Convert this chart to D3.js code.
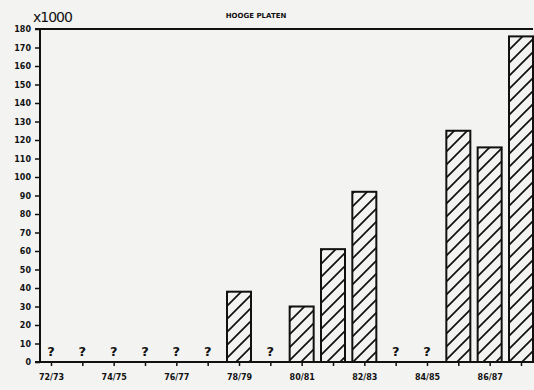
<!DOCTYPE html>
<html><head><meta charset="utf-8">
<script src="https://cdn.jsdelivr.net/npm/d3@7"></script>
<style>
html,body{margin:0;padding:0;background:#f3f3f1;}
svg{display:block;}
text{font-family:"DejaVu Sans",sans-serif;font-weight:bold;fill:#111;}
</style></head>
<body>
<script>
const categories = ["72/73","73/74","74/75","75/76","76/77","77/78","78/79","79/80","80/81","81/82","82/83","83/84","84/85","85/86","86/87","87/88"];
const values = [null,null,null,null,null,null,38,null,30,61,92,null,null,125,116,176];
const yTicks = [0,10,20,30,40,50,60,70,80,90,100,110,120,130,140,150,160,170,180];
const xLabels = ["72/73","74/75","76/77","78/79","80/81","82/83","84/85","86/87"];
const title = "HOOGE PLATEN";
const unitLabel = "x1000";

const W = 534, H = 390;
const svg = d3.select("body").append("svg").attr("width", W).attr("height", H);

const P = 13;
const defs = svg.append("defs");
const pat = defs.append("pattern").attr("id","hatch").attr("patternUnits","userSpaceOnUse")
  .attr("width",P).attr("height",P);
pat.append("rect").attr("width",P).attr("height",P).attr("fill","#f3f3f1");
pat.append("path").attr("d",`M-2,${P+2} L${P+2},-2 M-3,3 L3,-3 M${P-3},${P+3} L${P+3},${P-3}`)
  .attr("stroke","#111").attr("stroke-width",1.7);

const x0 = 40, yBase = 362, yTop = 29;
const x = d3.scalePoint().domain(categories).range([51, 521]);
const y = d3.scaleLinear().domain([0,180]).range([yBase, yTop]);
const bw = 24;

// top frame line
svg.append("line").attr("x1",x0).attr("x2",533).attr("y1",yTop).attr("y2",yTop)
  .attr("stroke","#111").attr("stroke-width",2);

// y axis
const yAxis = d3.axisLeft(y).tickValues(yTicks).tickSize(5).tickPadding(4).tickFormat(d3.format("d"));
const gy = svg.append("g").attr("transform",`translate(${x0},0)`).call(yAxis);
gy.select(".domain").attr("stroke","#111").attr("stroke-width",2).attr("d",`M-5,${yTop}H0V${yBase}`);
gy.selectAll(".tick line").attr("stroke","#111").attr("stroke-width",1.5);
gy.selectAll(".tick text").style("font-size","8px").style("font-weight","bold").attr("fill","#111");

// bars
svg.append("g").selectAll("rect").data(categories.map((c,i)=>({c,v:values[i]})).filter(d=>d.v!=null))
  .join("rect")
  .attr("x",d=>x(d.c)-bw/2).attr("width",bw)
  .attr("y",d=>y(d.v)).attr("height",d=>yBase-y(d.v))
  .attr("fill","url(#hatch)").attr("stroke","#111").attr("stroke-width",2);

// question marks
svg.append("g").selectAll("text").data(categories.map((c,i)=>({c,v:values[i]})).filter(d=>d.v==null))
  .join("text").attr("x",d=>x(d.c)).attr("y",yBase-6).attr("text-anchor","middle")
  .style("font-size","13px").text("?");

// x axis
const xAxis = d3.axisBottom(x).tickSize(4).tickPadding(8)
  .tickFormat(d => xLabels.includes(d) ? d : "");
const gx = svg.append("g").attr("transform",`translate(0,${yBase})`).call(xAxis);
gx.select(".domain").attr("stroke","#111").attr("stroke-width",2).attr("d",`M${x0-5},0H534`);
gx.selectAll(".tick line").attr("stroke","#111").attr("stroke-width",1.5);
gx.selectAll(".tick text").style("font-size","8px").style("font-weight","bold").attr("fill","#111");

// titles
svg.append("text").attr("x",256).attr("y",18).attr("text-anchor","middle")
  .style("font-size","7px").text(title);
svg.append("text").attr("x",33).attr("y",22).style("font-size","14px").style("font-weight","normal")
  .style("letter-spacing","-1px").text(unitLabel);
</script>
</body></html>
